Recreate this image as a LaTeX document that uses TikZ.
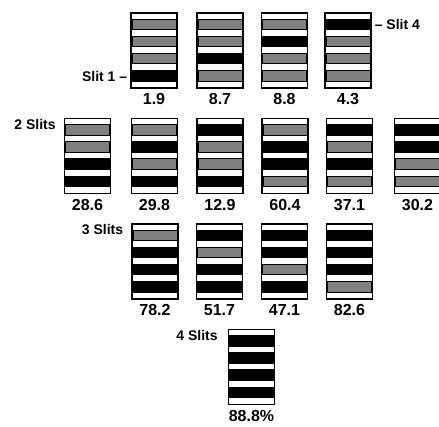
\documentclass[tikz,border=0pt]{standalone}
\usepackage{fontspec}
\setmainfont{Liberation Sans}
\usepackage{tikz}
\usetikzlibrary{positioning}
\colorlet{open}{black}
\colorlet{shut}{black!50}

\begin{document}
\begin{tikzpicture}[
  x=1pt, y=-1pt,
  slitbox/.style={draw, line width=1.2pt, fill=white, inner sep=0pt,
                  minimum width=46pt, minimum height=75pt},
  band/.style={draw=black, line width=0.5pt},
  value/.style={font=\fontsize{16}{16}\selectfont\bfseries, inner sep=1pt},
  tag/.style={font=\fontsize{14}{14}\selectfont\bfseries, inner sep=1pt}
]
  \useasboundingbox (0,0) rectangle (439,426);

  % --- one slit open -------------------------------------------------
  \foreach \n/\cx/\cy/\a/\b/\c/\d/\v in {
      r1a/154/50.5/shut/shut/shut/open/1.9,
      r1b/220/50.5/shut/shut/open/shut/8.7,
      r1c/284.5/50.5/shut/open/shut/shut/8.8,
      r1d/348/50.5/open/shut/shut/shut/4.3,
  % --- two slits open ------------------------------------------------
      r2a/87.5/156/shut/shut/open/open/28.6,
      r2b/154.5/156/shut/open/shut/open/29.8,
      r2c/220/156/open/shut/shut/open/12.9,
      r2d/285/156/shut/open/open/shut/60.4,
      r2e/349.5/156/open/shut/open/shut/37.1,
      r2f/417.5/156/open/open/shut/shut/30.2,
  % --- three slits open ----------------------------------------------
      r3a/155/261.5/shut/open/open/open/78.2,
      r3b/219.5/261.5/open/shut/open/open/51.7,
      r3c/284.5/261.5/open/open/shut/open/47.1,
      r3d/349.5/261.5/open/open/open/shut/82.6,
  % --- all four open -------------------------------------------------
      r4a/251.5/367/open/open/open/open/88.8\%}{
    \node[slitbox] (\n) at (\cx,\cy) {};
    \foreach \s [count=\i] in {\a,\b,\c,\d}
      \filldraw[band, fill=\s]
        ([xshift=1.5pt, yshift={(10.5-17.1*\i)*1pt}]\n.north west)
        rectangle ([xshift=-1.5pt, yshift={-17.1*\i*1pt}]\n.north east);
    \node[value, below=4pt of \n] (v\n) {\v};
  }

  % --- side labels ---------------------------------------------------
  \node[tag, left=2pt of r1a.south west, yshift=12pt] (slit1) {Slit 1 --};
  \node[tag, right=2pt of r1d.north east, yshift=-12pt] (slit4) {-- Slit 4};
  \node[tag, left=7pt of r2a.north west, anchor=north east] (two) {2 Slits};
  \node[tag, left=7pt of r3a.north west, anchor=north east] (three) {3 Slits};
  \node[tag, left=9pt of r4a.north west, anchor=north east] (four) {4 Slits};
\end{tikzpicture}
\end{document}
